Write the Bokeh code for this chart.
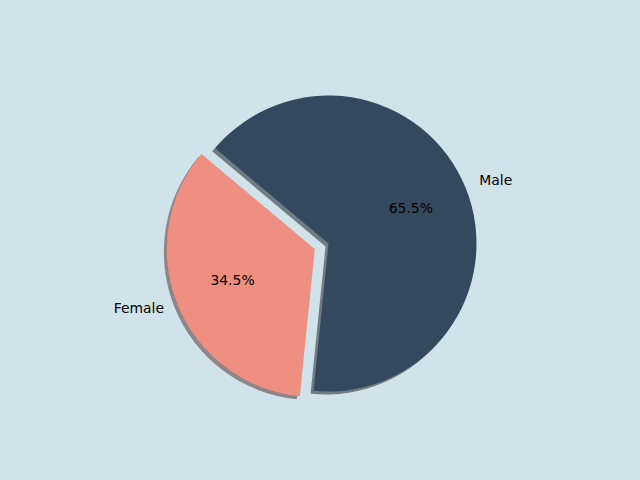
import math
from bokeh.plotting import figure
from bokeh.models import Range1d
from bokeh.core.properties import value
from bokeh.embed import file_html
from bokeh.resources import INLINE

# ---- data ----
labels = ["Female", "Male"]
shares = [34.5, 65.5]
colors = ["#ee8f81", "#34495e"]
explode = [0.1, 0.0]
start_angle = 140.0

BG = "#d0e3ea"
R = 1.0
PX = 148.0  # pixels per data unit
W, H = 640, 480

# page pixel of pie centre
cx_px, cy_px = 328.0, 243.0
x0 = (0 - cx_px) / PX
x1 = (W - cx_px) / PX
y1 = (cy_px - 0) / PX
y0 = (cy_px - H) / PX

p = figure(width=W, height=H, output_backend="svg", toolbar_location=None,
           x_range=Range1d(x0, x1), y_range=Range1d(y0, y1),
           x_axis_type=None, y_axis_type=None, min_border=0,
           background_fill_color=BG, border_fill_color=BG, outline_line_color=None)
p.grid.visible = False

def shade(hexc, f=0.3):
    h = hexc.lstrip("#")
    r, g, b = (int(h[i:i + 2], 16) for i in (0, 2, 4))
    return "#%02x%02x%02x" % (int(r * f), int(g * f), int(b * f))

FS = "13.9px"
total = sum(shares)
a = start_angle
for lab, v, c, ex in zip(labels, shares, colors, explode):
    span = 360.0 * v / total
    mid = math.radians(a + span / 2)
    cx = ex * R * math.cos(mid)
    cy = ex * R * math.sin(mid)
    # shadow
    p.wedge(x=[cx - 0.02], y=[cy - 0.02], radius=R, start_angle=a, end_angle=a + span,
            start_angle_units="deg", end_angle_units="deg", direction="anticlock",
            fill_color=shade(c), fill_alpha=0.5, line_color=None)
    p.wedge(x=[cx], y=[cy], radius=R, start_angle=a, end_angle=a + span,
            start_angle_units="deg", end_angle_units="deg", direction="anticlock",
            fill_color=c, line_color=None)
    # label
    lx = cx + 1.1 * R * math.cos(mid)
    ly = cy + 1.1 * R * math.sin(mid)
    p.text(x=[lx], y=[ly], text=[lab], text_align="left" if math.cos(mid) > 0 else "right",
           text_baseline="middle", y_offset=-2, text_font=value("DejaVu Sans"),
           text_font_size=FS, text_color="black")
    px = cx + 0.6 * R * math.cos(mid)
    py = cy + 0.6 * R * math.sin(mid)
    p.text(x=[px], y=[py], text=["%.1f%%" % v], text_align="center",
           text_baseline="middle", y_offset=-2, text_font=value("DejaVu Sans"),
           text_font_size=FS, text_color="black")
    a += span

html = file_html(p, INLINE)
html = html.replace("</head>", "<style>body{background:%s;}</style></head>" % BG, 1)
open("out.html", "w").write(html)
